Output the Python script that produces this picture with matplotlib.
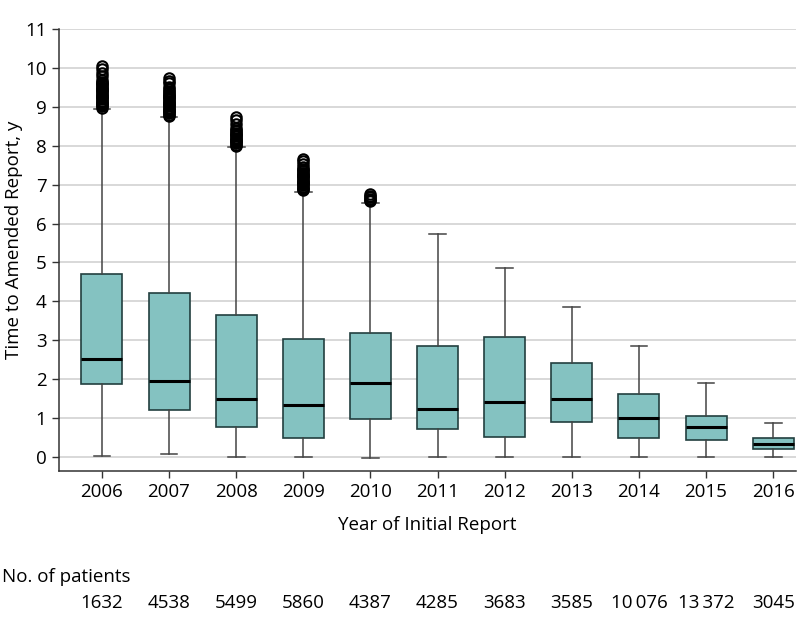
import matplotlib
matplotlib.use('Agg')
import matplotlib.pyplot as plt
from matplotlib import transforms

plt.rcParams['font.family'] = ['Open Sans', 'DejaVu Sans']

# Values (years, quartiles, whiskers)
years = ['2006', '2007', '2008', '2009', '2010', '2011', '2012', '2013', '2014', '2015', '2016']
patients = ['1632', '4538', '5499', '5860', '4387', '4285', '3683', '3585',
            '10\u2009076', '13\u2009372', '3045']
q1 = [1.87, 1.22, 0.76, 0.50, 0.97, 0.71, 0.51, 0.89, 0.48, 0.44, 0.20]
median = [2.53, 1.96, 1.49, 1.33, 1.90, 1.24, 1.41, 1.49, 1.00, 0.76, 0.33]
q3 = [4.71, 4.22, 3.64, 3.03, 3.19, 2.85, 3.09, 2.42, 1.62, 1.06, 0.49]
whisker_lo = [0.03, 0.07, 0.01, 0.00, -0.02, 0.00, 0.01, 0.01, 0.00, 0.00, 0.01]
whisker_hi = [8.94, 8.73, 7.96, 6.82, 6.53, 5.74, 4.85, 3.86, 2.84, 1.90, 0.88]

# outliers (dense stacks above the upper whisker)
fliers_2006 = [8.98, 9.01, 9.04, 9.07, 9.10, 9.13, 9.16, 9.19, 9.22, 9.25, 9.28, 9.31,
               9.34, 9.37, 9.40, 9.43, 9.46, 9.49, 9.52, 9.55, 9.58, 9.61, 9.65, 9.70,
               9.78, 9.88, 9.97, 10.05]
fliers_2007 = [8.77, 8.80, 8.83, 8.86, 8.89, 8.92, 8.95, 8.98, 9.01, 9.04, 9.07, 9.10,
               9.13, 9.16, 9.19, 9.22, 9.25, 9.28, 9.31, 9.34, 9.37, 9.41, 9.45,
               9.52, 9.60, 9.67, 9.73]
fliers_2008 = [8.00, 8.03, 8.06, 8.09, 8.12, 8.15, 8.18, 8.21, 8.24, 8.27, 8.30, 8.33,
               8.37, 8.41, 8.45, 8.55, 8.65, 8.73]
fliers_2009 = [6.86, 6.89, 6.92, 6.95, 6.98, 7.01, 7.04, 7.07, 7.10, 7.13, 7.16, 7.19,
               7.22, 7.25, 7.28, 7.31, 7.34, 7.37, 7.41, 7.45, 7.53, 7.60, 7.66]
fliers_2010 = [6.57, 6.60, 6.63, 6.67, 6.72, 6.76]
fliers = [fliers_2006, fliers_2007, fliers_2008, fliers_2009, fliers_2010,
          [], [], [], [], [], []]

stats = []
for i in range(len(years)):
    stats.append({'med': median[i], 'q1': q1[i], 'q3': q3[i],
                  'whislo': whisker_lo[i], 'whishi': whisker_hi[i],
                  'fliers': fliers[i], 'label': years[i]})

fig = plt.figure(figsize=(7.98, 6.3), dpi=100)
ax = fig.add_axes([0.0739, 0.2524, 0.9236, 0.7016])

pos = list(range(len(years)))
ax.bxp(stats, positions=pos, widths=0.61, capwidths=0.25, patch_artist=True,
       boxprops=dict(facecolor='#84c2c1', edgecolor='#223f3f', linewidth=1.2),
       medianprops=dict(color='black', linewidth=2.2),
       whiskerprops=dict(color='#444444', linewidth=1.1),
       capprops=dict(color='#444444', linewidth=1.1),
       flierprops=dict(marker='o', markerfacecolor='none', markeredgecolor='black',
                       markersize=7.5, markeredgewidth=1.5),
       zorder=3)

ax.set_ylim(-0.36, 11)
ax.set_xlim(-0.64, 10.34)
ax.set_yticks(range(0, 12))
ax.set_xticks(pos)
ax.set_xticklabels(years)
ax.tick_params(axis='both', labelsize=13.5, colors='#333333', labelcolor='black',
               length=5, width=1, pad=4)
ax.grid(axis='y', color='#d8d8d8', linewidth=1.4, zorder=0)
ax.set_axisbelow(True)
for s in ['top', 'right']:
    ax.spines[s].set_visible(False)
for s in ['left', 'bottom']:
    ax.spines[s].set_color('#333333')
    ax.spines[s].set_linewidth(1.1)

fig.text(14 / 798, 1 - 240 / 630, 'Time to Amended Report, y', rotation=90,
         ha='center', va='center', fontsize=13.5)
fig.text(427 / 798, 1 - 525 / 630, 'Year of Initial Report',
         ha='center', va='center', fontsize=13.5)

# patient counts row under the axis
fig.text(2 / 798, 1 - 577 / 630, 'No. of patients', ha='left', va='center', fontsize=13.5)
trans = transforms.blended_transform_factory(ax.transData, fig.transFigure)
for x, n in zip(pos, patients):
    ax.text(x, 1 - 603 / 630, n, transform=trans, ha='center', va='center',
            fontsize=13.5, clip_on=False)

fig.savefig('out.png', dpi=100)
